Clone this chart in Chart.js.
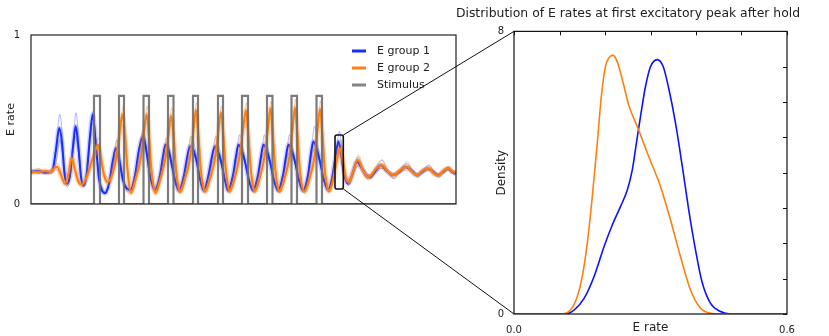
<!DOCTYPE html>
<html>
<head>
<meta charset="utf-8">
<script src="https://cdn.jsdelivr.net/npm/chart.js@4.4.1/dist/chart.umd.min.js"></script>
<style>
  html, body { margin: 0; padding: 0; background: #fff; }
  #wrap { position: relative; width: 829px; height: 336px; }
  #left { position: absolute; left: 0; top: 0; }
  #right { position: absolute; left: 449px; top: 0; }
  #overlay { position: absolute; left: 0; top: 0; pointer-events: none; }
</style>
</head>
<body>
<div id="wrap">
  <canvas id="left" width="470" height="220" style="width:470px;height:220px"></canvas>
  <canvas id="right" width="358" height="336" style="width:358px;height:336px"></canvas>
  <canvas id="overlay" width="829" height="336" style="width:829px;height:336px"></canvas>
</div>
<script>
// time (arbitrary units) vs E rate: mean + two faint trials per group
const group1Rate = [
  [0,0.19],[7,0.195],[14,0.185],[19,0.19],[22,0.21],[25,0.32],[28.3,0.45],[31,0.36],[33.5,0.18],[36,0.12],
  [39,0.17],[42,0.34],[44.7,0.46],[47.5,0.33],[50,0.16],[52.5,0.11],[55.5,0.17],[59,0.40],[61.7,0.53],[64.5,0.38],
  [68,0.15],[71,0.08],[74,0.063],[78,0.12],[82,0.26],[85,0.33],[88,0.27],[92,0.14],[96,0.09],[99.5,0.083],
  [104,0.17],[108,0.32],[112,0.40],[115,0.33],[119,0.17],[124,0.085],[129,0.17],[132,0.28],[134.5,0.35],[137.5,0.32],
  [140.5,0.24],[144,0.14],[148,0.08],[153,0.17],[156,0.27],[159,0.34],[162.3,0.32],[165.7,0.25],[169,0.15],[172.5,0.08],
  [177.5,0.17],[181,0.28],[184,0.34],[187,0.31],[190.5,0.24],[194,0.14],[197,0.08],[202,0.17],[205,0.28],[207.5,0.35],
  [210.5,0.32],[214,0.25],[218,0.14],[222,0.08],[227,0.17],[230,0.28],[232.5,0.35],[235.5,0.32],[239,0.25],[243,0.14],
  [247,0.08],[252,0.17],[255,0.28],[257.5,0.35],[260.5,0.32],[264,0.25],[268,0.14],[272,0.08],[277,0.17],[280,0.30],
  [282.5,0.37],[285.5,0.33],[289,0.25],[293,0.14],[297,0.085],[301,0.15],[304.5,0.28],[307.5,0.37],[310,0.30],[313,0.18],
  [317,0.12],[321,0.17],[326,0.25],[330,0.22],[335,0.17],[339,0.16],[344,0.19],[350,0.23],[355,0.20],[362,0.17],
  [368,0.19],[375,0.22],[380,0.20],[386,0.17],[391,0.19],[397,0.21],[402,0.19],[407,0.17],[412,0.19],[417,0.21],
  [421,0.19],[425,0.18]
];
const group1TrialA = [
  [0,0.2],[8,0.18],[15,0.2],[20,0.19],[23,0.24],[26,0.40],[28.8,0.53],[31.5,0.40],[34,0.17],[36.5,0.10],
  [39.5,0.18],[42.5,0.40],[45,0.54],[48,0.35],[50.5,0.14],[53,0.10],[56,0.18],[59.5,0.44],[62,0.55],[65,0.36],
  [68.5,0.12],[72,0.07],[75,0.08],[79,0.15],[83,0.30],[86,0.38],[89,0.28],[93,0.12],[97,0.07],[100.5,0.09],
  [105,0.2],[109,0.36],[112.5,0.44],[116,0.30],[120,0.13],[125,0.07],[130,0.19],[133,0.31],[135.5,0.39],[138.5,0.33],
  [142,0.2],[145.5,0.1],[149,0.07],[154,0.19],[157,0.31],[160,0.40],[163,0.36],[166.5,0.24],[170,0.12],[173.5,0.07],
  [178.5,0.19],[182,0.32],[185,0.40],[188,0.34],[191.5,0.21],[195,0.11],[198,0.07],[203,0.19],[206,0.32],[208.5,0.41],
  [211.5,0.35],[215,0.22],[219,0.11],[223,0.07],[228,0.19],[231,0.32],[233.5,0.41],[236.5,0.35],[240,0.22],[244,0.11],
  [248,0.07],[253,0.19],[256,0.32],[258.5,0.41],[261.5,0.35],[265,0.22],[269,0.11],[273,0.07],[278,0.2],[281,0.36],
  [283.5,0.46],[286.5,0.36],[290,0.22],[294,0.11],[298,0.07],[302,0.17],[305.5,0.33],[308.5,0.43],[311,0.32],[314,0.16],
  [318,0.11],[322,0.18],[327,0.28],[331,0.22],[336,0.15],[340,0.15],[345,0.21],[351,0.26],[356,0.2],[363,0.15],
  [369,0.2],[376,0.24],[381,0.2],[387,0.16],[392,0.2],[398,0.23],[403,0.19],[408,0.16],[413,0.2],[418,0.22],
  [422,0.18],[425,0.17]
];
const group1TrialB = [
  [0,0.18],[8,0.2],[15,0.18],[20,0.18],[23,0.2],[26,0.28],[28.5,0.38],[31,0.32],[33.5,0.2],[36,0.14],
  [39,0.16],[42,0.3],[44.5,0.40],[47.5,0.3],[50,0.17],[52.5,0.12],[55.5,0.16],[59,0.36],[61.5,0.48],[64.5,0.36],
  [68,0.17],[71,0.1],[74,0.07],[78,0.11],[82,0.22],[85,0.29],[88,0.25],[92,0.15],[96,0.1],[99.5,0.09],
  [104,0.15],[108,0.27],[111.5,0.35],[115,0.3],[119,0.18],[124,0.1],[129,0.15],[132,0.24],[134.5,0.31],[137.5,0.29],
  [141,0.23],[144.5,0.15],[148,0.09],[153,0.15],[156,0.23],[159,0.29],[162,0.29],[165.5,0.25],[169,0.16],[172.5,0.09],
  [177.5,0.15],[181,0.24],[184,0.29],[187,0.28],[190.5,0.23],[194,0.15],[197,0.09],[202,0.15],[205,0.24],[207.5,0.30],
  [210.5,0.29],[214,0.24],[218,0.15],[222,0.09],[227,0.15],[230,0.24],[232.5,0.30],[235.5,0.29],[239,0.24],[243,0.15],
  [247,0.09],[252,0.15],[255,0.24],[257.5,0.30],[260.5,0.29],[264,0.24],[268,0.15],[272,0.09],[277,0.15],[280,0.26],
  [282.5,0.32],[285.5,0.3],[289,0.24],[293,0.15],[297,0.09],[301,0.13],[304.5,0.24],[307,0.32],[310,0.28],[313,0.19],
  [317,0.14],[321,0.16],[326,0.22],[330,0.22],[335,0.19],[339,0.17],[344,0.18],[350,0.21],[355,0.21],[362,0.18],
  [368,0.18],[375,0.21],[380,0.21],[386,0.18],[391,0.18],[397,0.2],[402,0.2],[407,0.18],[412,0.18],[417,0.2],
  [421,0.2],[425,0.19]
];
const group2Rate = [
  [0,0.19],[7,0.19],[14,0.195],[19,0.19],[23,0.21],[26,0.22],[30,0.17],[34,0.12],[37.5,0.18],[40.7,0.27],
  [44,0.20],[47.5,0.13],[50.7,0.115],[55,0.15],[60,0.24],[64,0.31],[67,0.35],[70,0.27],[73,0.17],[77,0.13],
  [81,0.17],[85,0.27],[88.5,0.42],[91.5,0.53],[94,0.40],[96.5,0.20],[99.7,0.065],
  [104.7,0.15],[109.7,0.27],[113,0.43],[115.7,0.53],[118,0.40],[120.4,0.20],[123,0.09],[124.4,0.065],
  [129.4,0.15],[134.4,0.27],[137.7,0.42],[140,0.52],[142.7,0.40],[145,0.20],[147.5,0.10],[149,0.07],
  [154,0.15],[159,0.27],[162.3,0.43],[165,0.555],[167.3,0.41],[169.7,0.21],[172.3,0.10],[174,0.073],
  [179,0.15],[184,0.27],[187.3,0.43],[190,0.54],[192.3,0.41],[194.7,0.21],[197.3,0.10],[198.5,0.073],
  [203.5,0.15],[208.5,0.28],[212,0.44],[215,0.555],[217.3,0.41],[219.7,0.21],[222.3,0.10],[223.5,0.073],
  [228.5,0.15],[233.5,0.28],[236.8,0.44],[239.5,0.565],[241.8,0.41],[244.2,0.21],[246.8,0.10],[248.5,0.073],
  [253.5,0.15],[258.5,0.28],[261.5,0.44],[264,0.57],[266.3,0.42],[268.7,0.21],[271.3,0.10],[273.5,0.073],
  [278.5,0.15],[283.5,0.28],[286.5,0.44],[289,0.56],[291.3,0.42],[293.7,0.21],[296.3,0.10],[298,0.075],
  [302,0.14],[306,0.27],[309,0.33],[312,0.25],[315,0.15],[318,0.13],[322,0.19],[327,0.26],[332,0.20],[337,0.16],
  [340,0.17],[345,0.21],[351,0.23],[357,0.19],[363,0.17],[369,0.20],[376,0.22],[381,0.19],[386,0.17],[392,0.20],
  [398,0.21],[403,0.18],[408,0.17],[413,0.20],[418,0.21],[422,0.19],[425,0.19]
];
const group2TrialA = [
  [0,0.2],[8,0.21],[15,0.18],[20,0.2],[24,0.23],[27,0.24],[31,0.16],[35,0.11],[38.5,0.2],[41.5,0.3],
  [45,0.19],[48.5,0.11],[51.5,0.1],[56,0.16],[61,0.27],[65,0.35],[68,0.39],[71,0.27],[74,0.14],[78,0.11],
  [82,0.18],[86,0.3],[89.5,0.47],[92.3,0.58],[94.8,0.42],[97.3,0.18],[100.5,0.06],
  [105.5,0.16],[110.5,0.3],[113.8,0.47],[116.3,0.58],[118.6,0.42],[121,0.18],[123.6,0.07],[125,0.06],
  [130,0.16],[135,0.3],[138.3,0.47],[140.7,0.57],[143.3,0.42],[145.6,0.18],[148,0.08],[149.6,0.065],
  [154.6,0.16],[159.6,0.3],[162.9,0.48],[165.6,0.6],[167.9,0.43],[170.3,0.19],[172.9,0.08],[174.6,0.065],
  [179.6,0.16],[184.6,0.3],[187.9,0.47],[190.6,0.58],[192.9,0.43],[195.3,0.19],[197.9,0.08],[199.1,0.065],
  [204.1,0.16],[209.1,0.31],[212.6,0.48],[215.6,0.6],[217.9,0.43],[220.3,0.19],[222.9,0.08],[224.1,0.065],
  [229.1,0.16],[234.1,0.31],[237.4,0.49],[240.1,0.61],[242.4,0.43],[244.8,0.19],[247.4,0.08],[249.1,0.065],
  [254.1,0.16],[259.1,0.31],[262.1,0.49],[264.6,0.62],[266.9,0.44],[269.3,0.19],[271.9,0.08],[274.1,0.065],
  [279.1,0.16],[284.1,0.31],[287.1,0.49],[289.6,0.61],[291.9,0.44],[294.3,0.19],[296.9,0.08],[298.6,0.07],
  [302.6,0.16],[306.6,0.31],[309.6,0.38],[312.6,0.27],[315.6,0.14],[318.6,0.12],[322.6,0.2],[327.6,0.29],[332.6,0.2],[337.6,0.14],
  [340.6,0.16],[345.6,0.23],[351.6,0.26],[357.6,0.18],[363.6,0.15],[369.6,0.21],[376.6,0.25],[381.6,0.19],[386.6,0.16],[392.6,0.21],
  [398.6,0.23],[403.6,0.17],[408.6,0.16],[413.6,0.21],[418.6,0.22],[422.6,0.18],[425,0.18]
];
const group2TrialB = [
  [0,0.18],[8,0.19],[15,0.2],[20,0.18],[23,0.2],[26,0.2],[30,0.18],[34,0.13],[37.5,0.17],[40.5,0.24],
  [44,0.21],[47.5,0.15],[50.5,0.13],[55,0.15],[60,0.21],[64,0.27],[67,0.31],[70,0.26],[73,0.19],[77,0.15],
  [81,0.17],[85,0.25],[88.5,0.37],[91,0.47],[93.7,0.38],[96.2,0.22],[99.4,0.08],
  [104.4,0.14],[109.4,0.25],[112.7,0.38],[115.4,0.48],[117.7,0.38],[120.1,0.22],[122.7,0.11],[124.1,0.08],
  [129.1,0.14],[134.1,0.25],[137.4,0.38],[139.7,0.47],[142.4,0.38],[144.7,0.22],[147.2,0.11],[148.7,0.085],
  [153.7,0.14],[158.7,0.25],[162,0.39],[164.7,0.5],[167,0.39],[169.4,0.22],[172,0.11],[173.7,0.085],
  [178.7,0.14],[183.7,0.25],[187,0.39],[189.7,0.49],[192,0.39],[194.4,0.22],[197,0.11],[198.2,0.085],
  [203.2,0.14],[208.2,0.26],[211.7,0.4],[214.7,0.5],[217,0.39],[219.4,0.22],[222,0.11],[223.2,0.085],
  [228.2,0.14],[233.2,0.26],[236.5,0.4],[239.2,0.51],[241.5,0.39],[243.9,0.22],[246.5,0.11],[248.2,0.085],
  [253.2,0.14],[258.2,0.26],[261.2,0.4],[263.7,0.52],[266,0.4],[268.4,0.22],[271,0.11],[273.2,0.085],
  [278.2,0.14],[283.2,0.26],[286.2,0.4],[288.7,0.5],[291,0.4],[293.4,0.22],[296,0.11],[297.7,0.085],
  [301.7,0.13],[305.7,0.23],[308.7,0.29],[311.7,0.24],[314.7,0.17],[317.7,0.15],[321.7,0.18],[326.7,0.23],[331.7,0.2],[336.7,0.17],
  [339.7,0.18],[344.7,0.2],[350.7,0.21],[356.7,0.19],[362.7,0.18],[368.7,0.19],[375.7,0.2],[380.7,0.19],[385.7,0.18],[391.7,0.19],
  [397.7,0.2],[402.7,0.19],[407.7,0.18],[412.7,0.19],[417.7,0.2],[421.7,0.19],[425,0.19]
];
// stimulus pulses
const stimOn  = [63, 88, 112.5, 137, 162, 187, 211, 236, 260.5, 285.5];
const stimOff = [69, 93, 118, 142.5, 167, 192, 217, 241.5, 266, 291];
const stimLevel = 0.64;
const timeEnd = 425;
// window of the first excitatory peak after hold
const holdWindow = [304, 312.3];
const holdRange = [0.089, 0.408];

// density of E rate at that peak
const g1DensX = [0, 0.110, 0.132, 0.154, 0.176, 0.198, 0.216, 0.234, 0.249, 0.260, 0.269, 0.278, 0.289, 0.300, 0.315, 0.328, 0.340, 0.355, 0.370, 0.384, 0.399, 0.413, 0.432, 0.454, 0.476, 0.6];
const g1Dens  = [0, 0, 0.11, 0.44, 1.06, 1.91, 2.52, 3.04, 3.51, 4.08, 4.84, 5.59, 6.44, 7.0, 7.20, 7.0, 6.39, 5.40, 4.17, 2.95, 1.81, 0.92, 0.30, 0.07, 0, 0];
const g2DensX = [0, 0.105, 0.124, 0.139, 0.150, 0.161, 0.172, 0.183, 0.192, 0.201, 0.211, 0.218, 0.228, 0.240, 0.252, 0.274, 0.296, 0.322, 0.344, 0.366, 0.388, 0.410, 0.432, 0.454, 0.6];
const g2Dens  = [0, 0, 0.11, 0.49, 1.06, 2.0, 3.32, 4.84, 6.16, 7.0, 7.29, 7.32, 7.10, 6.54, 5.92, 5.21, 4.46, 3.61, 2.66, 1.62, 0.68, 0.16, 0.02, 0, 0];

const BLUE = '#1a2cff';
const ORANGE = '#ff7f0e';
const GREY = 'rgba(110,110,110,0.9)';
const TEXT = '#222';

Chart.defaults.font.family = '"DejaVu Sans", sans-serif';
Chart.defaults.color = TEXT;

const toXY = arr => arr.map(p => ({ x: p[0], y: p[1] }));
const zip = (xs, ys) => xs.map((x, i) => ({ x: x, y: ys[i] }));

const stimPts = [{ x: 0, y: 0 }];
stimOn.forEach((on, i) => {
    stimPts.push({ x: on, y: 0 }, { x: on, y: stimLevel }, { x: stimOff[i], y: stimLevel }, { x: stimOff[i], y: 0 });
});
stimPts.push({ x: timeEnd, y: 0 });

function trace(arr, color, width, order, extra) {
    return Object.assign({ data: toXY(arr), borderColor: color, borderWidth: width, pointRadius: 0,
                           cubicInterpolationMode: 'monotone', order: order }, extra || {});
}

// legend + frame + hold box for the left panel
const leftDecor = {
    id: 'leftDecor',
    afterDatasetsDraw(chart) {
        const { ctx, chartArea: a, scales: { x, y } } = chart;
        ctx.save();
        ctx.strokeStyle = TEXT;
        ctx.lineWidth = 1.2;
        ctx.strokeRect(a.left, a.top, a.width, a.height);

        const x0 = x.getPixelForValue(holdWindow[0]), x1 = x.getPixelForValue(holdWindow[1]);
        const y0 = y.getPixelForValue(holdRange[1]), y1 = y.getPixelForValue(holdRange[0]);
        ctx.strokeStyle = '#111';
        ctx.lineWidth = 1.6;
        ctx.beginPath();
        ctx.roundRect(x0, y0, x1 - x0, y1 - y0, 2);
        ctx.stroke();

        ctx.font = '11px "DejaVu Sans"';
        ctx.textBaseline = 'middle';
        chart.data.datasets.filter(d => d.label).forEach((d, i) => {
            const ly = a.top + 16 + i * 17;
            const lx = a.right - 104;
            ctx.strokeStyle = d.legendColor;
            ctx.lineWidth = 3;
            ctx.beginPath();
            ctx.moveTo(lx, ly);
            ctx.lineTo(lx + 14, ly);
            ctx.stroke();
            ctx.fillStyle = TEXT;
            ctx.fillText(d.label, lx + 25, ly);
        });
        ctx.restore();
    }
};

const leftChart = new Chart(document.getElementById('left'), {
    type: 'line',
    data: {
        datasets: [
            trace(group1Rate, BLUE, 2, 5, { label: 'E group 1', legendColor: BLUE }),
            trace(group2Rate, ORANGE, 2, 1, { label: 'E group 2', legendColor: ORANGE }),
            { label: 'Stimulus', legendColor: 'rgba(120,120,120,0.9)', data: stimPts, borderColor: GREY,
              borderWidth: 2.2, pointRadius: 0, tension: 0, order: 0 },
            trace(group1Rate, 'rgba(40,60,255,0.22)', 5, 8),
            trace(group1TrialA, 'rgba(40,60,255,0.35)', 1, 6),
            trace(group1TrialB, 'rgba(40,60,255,0.35)', 1, 7),
            trace(group2Rate, 'rgba(255,127,14,0.28)', 5, 4),
            trace(group2TrialA, 'rgba(255,127,14,0.4)', 1, 2),
            trace(group2TrialB, 'rgba(255,127,14,0.4)', 1, 3)
        ]
    },
    options: {
        responsive: false,
        animation: false,
        layout: { padding: { top: 35, right: 14, bottom: 16, left: 0 } },
        plugins: { legend: { display: false }, tooltip: { enabled: false } },
        scales: {
            x: { type: 'linear', min: 0, max: timeEnd, display: false },
            y: {
                min: 0, max: 1,
                afterFit: axis => { axis.width = 31; },
                grid: { display: false },
                border: { display: false },
                ticks: { stepSize: 1, padding: 3, font: { size: 10 } },
                title: { display: true, text: 'E rate', font: { size: 11 }, padding: { top: 5, bottom: 0 } }
            }
        }
    },
    plugins: [leftDecor]
});

// frame + inward ticks for the right panel
const rightDecor = {
    id: 'rightDecor',
    afterDraw(chart) {
        const { ctx, chartArea: a, scales: { x, y } } = chart;
        ctx.save();
        ctx.strokeStyle = '#111';
        ctx.lineWidth = 1.2;
        ctx.strokeRect(a.left, a.top, a.width, a.height);
        ctx.lineWidth = 1;
        ctx.beginPath();
        x.ticks.forEach(t => {
            const px = Math.round(x.getPixelForValue(t.value)) + 0.5;
            ctx.moveTo(px, a.top);
            ctx.lineTo(px, a.top + 4);
        });
        y.ticks.forEach(t => {
            const py = Math.round(y.getPixelForValue(t.value)) + 0.5;
            ctx.moveTo(a.right - 4, py);
            ctx.lineTo(a.right, py);
        });
        ctx.stroke();
        ctx.restore();
    }
};

const isEnd = (v, end) => Math.abs(v) < 1e-9 || Math.abs(v - end) < 1e-9;

const rightChart = new Chart(document.getElementById('right'), {
    type: 'line',
    data: {
        datasets: [
            { data: zip(g1DensX, g1Dens), borderColor: '#0a14ff', borderWidth: 1.6, pointRadius: 0, cubicInterpolationMode: 'monotone', order: 2 },
            { data: zip(g2DensX, g2Dens), borderColor: ORANGE, borderWidth: 1.6, pointRadius: 0, cubicInterpolationMode: 'monotone', order: 1 }
        ]
    },
    options: {
        responsive: false,
        animation: false,
        layout: { padding: { top: 0, right: 6, bottom: 0, left: 6 } },
        plugins: {
            legend: { display: false },
            tooltip: { enabled: false },
            title: {
                display: true,
                text: 'Distribution of E rates at first excitatory peak after hold',
                font: { size: 12.4, weight: 'normal' },
                padding: { top: 6, bottom: 10.5 }
            }
        },
        scales: {
            x: {
                type: 'linear', min: 0, max: 0.6,
                afterFit: axis => { axis.height = 22; },
                grid: { display: false },
                border: { display: false },
                ticks: { stepSize: 0.1, autoSkip: false, maxRotation: 0, padding: 2, font: { size: 10 },
                         callback: v => isEnd(v, 0.6) ? v.toFixed(1) : '' },
                title: { display: true, text: 'E rate', font: { size: 12 }, padding: { top: 0, bottom: 1 } }
            },
            y: {
                min: 0, max: 8,
                afterFit: axis => { axis.width = 59; },
                grid: { display: false },
                border: { display: false },
                ticks: { stepSize: 1, padding: 2, font: { size: 10 },
                         callback: v => isEnd(v, 8) ? String(v) : '' },
                title: { display: true, text: 'Density', font: { size: 12 }, padding: { top: 40, bottom: 0 } }
            },
            // empty right-hand margin so the title can run past the frame
            yMargin: {
                position: 'right', min: 0, max: 8,
                afterFit: axis => { axis.width = 14; },
                grid: { display: false },
                border: { display: false },
                ticks: { display: false }
            }
        }
    },
    plugins: [rightDecor]
});

// zoom connectors from the hold box to the density panel
const ov = document.getElementById('overlay').getContext('2d');
const lc = document.getElementById('left'), rc = document.getElementById('right');
const bx = leftChart.scales.x.getPixelForValue(holdWindow[1]) + lc.offsetLeft;
const byTop = leftChart.scales.y.getPixelForValue(holdRange[1]) + lc.offsetTop;
const byBot = leftChart.scales.y.getPixelForValue(holdRange[0]) + lc.offsetTop;
const ra = rightChart.chartArea;
ov.strokeStyle = '#111';
ov.lineWidth = 1;
ov.beginPath();
ov.moveTo(bx, byTop);
ov.lineTo(ra.left + rc.offsetLeft, ra.top + rc.offsetTop);
ov.moveTo(bx, byBot);
ov.lineTo(ra.left + rc.offsetLeft, ra.bottom + rc.offsetTop);
ov.stroke();
</script>
</body>
</html>
